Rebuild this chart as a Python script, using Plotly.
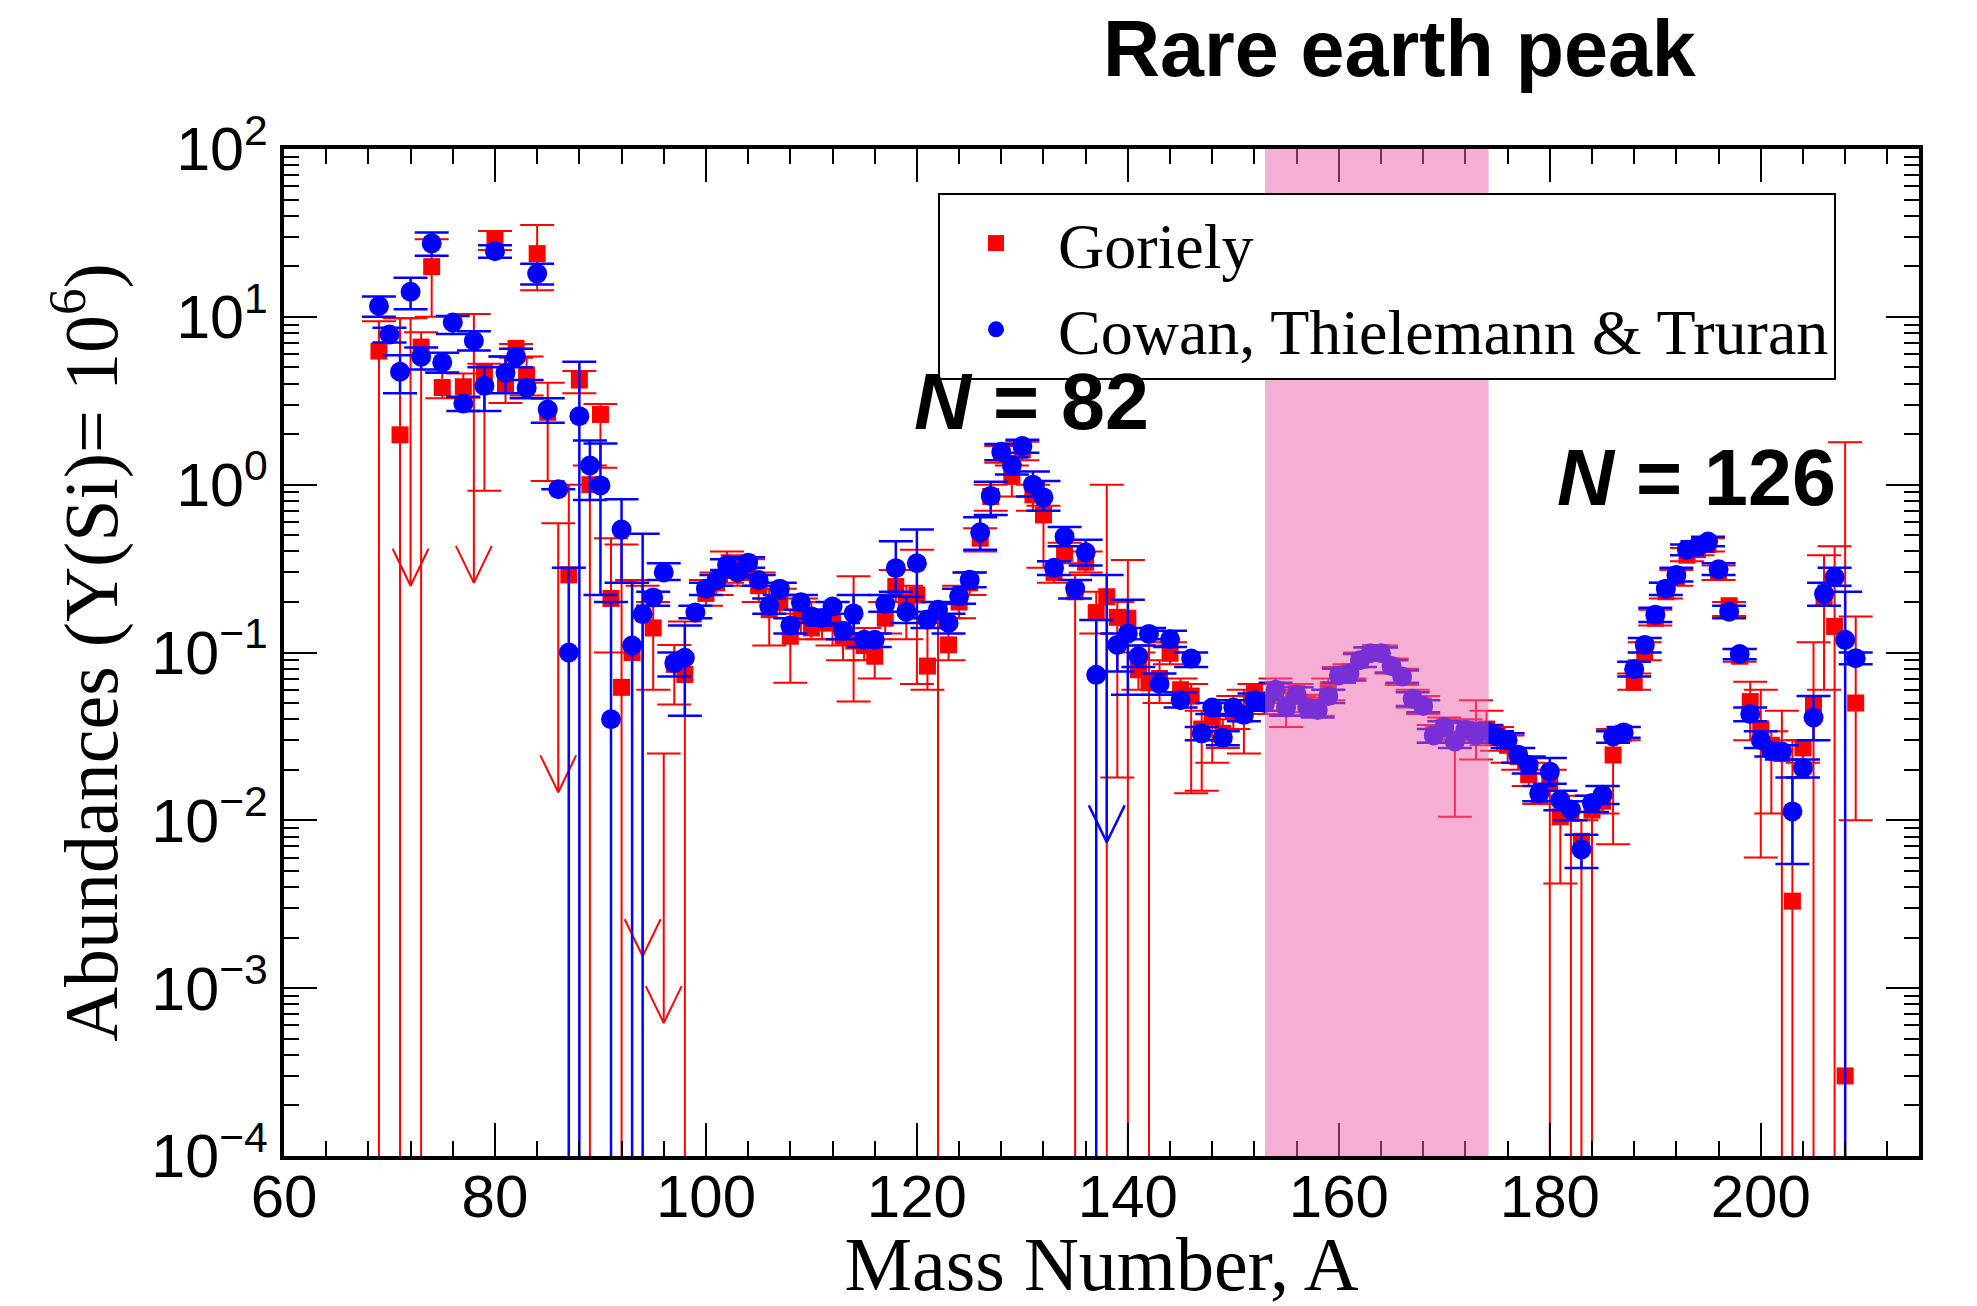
import numpy as np
import plotly.graph_objects as go

# ---------------- data ----------------
# Goriely (red squares): mass number, abundance, upper end, lower end of error bar
# lower end 0 -> bar runs below the axis floor; None -> no error bar
gor_A = [69, 71, 73, 74, 75, 77, 79, 80, 81, 82, 83, 84, 85, 87, 88, 89, 90, 91, 92, 93,
         95, 97, 98, 100, 101, 102, 103, 104, 105, 106, 107, 108, 109, 110, 111, 112, 113,
         114, 115, 116, 117, 118, 119, 120, 121, 122, 123, 124, 125, 126, 127, 128, 129,
         130, 131, 132, 133, 134, 135, 136, 137, 138, 139, 140, 141, 142, 143, 144, 145,
         146, 147, 148, 149, 150, 151, 152, 153, 154, 155, 156, 157, 158, 159, 160, 161,
         162, 163, 164, 165, 166, 167, 168, 169, 170, 171, 172, 173, 174, 175, 176, 177,
         178, 179, 180, 181, 182, 183, 184, 185, 186, 187, 188, 189, 190, 191, 192, 193,
         194, 195, 196, 197, 198, 199, 200, 201, 202, 203, 204, 205, 206, 207, 208, 209]
gor_y = [6.25, 1.98, 6.6, 19.9, 3.79, 3.83, 4.7, 29.3, 3.92, 6.49, 4.5, 23.8, 2.7, 0.29, 4.2,
         1.0, 2.62, 0.21, 0.062, 0.10, 0.14, 0.085, 0.074, 0.225, 0.26, 0.31, 0.33, 0.31,
         0.25, 0.18, 0.20, 0.125, 0.17, 0.14, 0.15, 0.15, 0.125, 0.117, 0.11, 0.095, 0.16,
         0.247, 0.20, 0.22, 0.083, 0.17, 0.111, 0.20, 0.26, 0.48, 0.85, 1.55, 1.12, 1.62,
         0.87, 0.66, 0.30, 0.39, 0.23, 0.345, 0.173, 0.215, 0.162, 0.16, 0.079, 0.066, 0.07,
         0.099, 0.06, 0.055, 0.035, 0.0416, 0.033, 0.045, 0.043, 0.057, 0.05, 0.06, 0.047,
         0.057, 0.05, 0.047, 0.06, 0.073, 0.077, 0.09, 0.10, 0.10, 0.083, 0.072, 0.053,
         0.048, 0.033, 0.036, 0.030, 0.035, 0.034, 0.035, 0.032, 0.028, 0.024, 0.0187,
         0.014, 0.017, 0.0105, 0.011, 0.0075, 0.0115, 0.013, 0.0245, 0.033, 0.0665, 0.10,
         0.16, 0.23, 0.28, 0.38, 0.41, 0.44, 0.30, 0.19, 0.095, 0.051, 0.035, 0.028, 0.025,
         0.0033, 0.027, 0.049, 0.21, 0.143, 0.0003, 0.05]
gor_hi = [9.4, 9.8, 8.1, 29.0, 4.67, 4.6, 5.25, 32.5, 5.8, 6.9, 5.8, 35.2, 4.05, 1.0, 4.75,
          1.3, 3.02, 0.48, 0.44, 0.27, 0.20, 0.111, 0.153, 0.27, 0.30, 0.40, 0.38, 0.36,
          0.30, 0.24, 0.24, 0.18, 0.21, 0.20, 0.18, 0.20, 0.15, 0.285, 0.14, 0.12, 0.20,
          0.31, 0.25, 0.41, 0.15, 0.20, 0.16, 0.25, 0.30, 0.55, 1.0, 1.7, 1.3, 1.8, 1.0,
          0.75, 0.35, 0.45, 0.29, 0.40, 0.23, 1.0, 0.20, 0.356, 0.10, 0.11, 0.09, 0.115,
          0.07, 0.065, 0.045, 0.05, 0.04, 0.055, 0.06, 0.065, 0.058, 0.07, 0.06, 0.065,
          0.056, 0.054, 0.07, 0.082, 0.085, 0.10, 0.108, 0.11, 0.092, 0.08, 0.06, 0.055,
          0.037, 0.041, 0.034, 0.04, 0.052, 0.045, 0.036, 0.032, 0.027, 0.022, 0.016, 0.02,
          0.014, 0.013, 0.010, 0.014, 0.016, 0.035, 0.036, 0.075, 0.115, 0.18, 0.26, 0.31,
          0.42, 0.45, 0.48, 0.33, 0.20, 0.105, 0.067, 0.06, 0.034, 0.045, 0.03, 0.03,
          0.115, 0.38, 0.43, 1.79, 0.164]
gor_lo = [0, 0, 0, 10.0, 3.27, 3.3, 0.92, 25.0, 3.07, 5.7, 3.4, 14.4, 1.05, 0, 3.5,
          0, 1.26, 0.10, 0, 0, 0.06, 0.049, 0, 0.19, 0.22, 0.26, 0.25, 0.27, 0.20, 0.11,
          0.17, 0.066, 0.13, 0.12, 0.12, 0.11, 0.09, 0.051, 0.09, 0.07, 0.13, 0.20, 0.12,
          0.065, 0.06, 0, 0.09, 0.16, 0.22, 0.40, 0.70, 1.35, 0.85, 1.40, 0.70, 0.32, 0.26,
          0.34, 0, 0.30, 0.13, 0, 0.018, 0, 0.06, 0, 0.05, 0.085, 0.05, 0.0145, 0.015,
          0.022, 0.027, 0.035, 0.025, 0.048, 0.043, 0.05, 0.036, 0.05, 0.044, 0.042, 0.052,
          0.066, 0.07, 0.082, 0.092, 0.092, 0.075, 0.064, 0.047, 0.043, 0.029, 0.03, 0.0105,
          0.03, 0.023, 0.028, 0.026, 0.022, 0.02, 0.016, 0.0125, 0, 0.0042, 0, 0, 0, 0.011,
          0.0072, 0.03, 0.06, 0.09, 0.145, 0.21, 0.25, 0.35, 0.38, 0.40, 0.27, 0.165, 0.088,
          0.03, 0.006, 0.011, 0, 0, 0.022, 0, 0.06, 0, 0, 0.01]

# Cowan, Thielemann & Truran (blue circles)
ctt_A = [69, 70, 71, 72, 73, 74, 75, 76, 77, 78, 79, 80, 81, 82, 83, 84, 85, 86, 87, 88, 89,
         90, 91, 92, 93, 94, 95, 96, 97, 98, 99, 100, 101, 102, 103, 104, 105, 106, 107, 108,
         109, 110, 111, 112, 113, 114, 115, 116, 117, 118, 119, 120, 121, 122, 123, 124, 125,
         126, 127, 128, 129, 130, 131, 132, 133, 134, 135, 136, 137, 139, 140, 141, 142, 143,
         144, 145, 146, 147, 148, 149, 150, 151, 152, 153, 154, 155, 156, 157, 158, 159, 160,
         161, 162, 163, 164, 165, 166, 167, 168, 169, 170, 171, 172, 173, 174, 175, 176, 177,
         178, 179, 180, 181, 182, 183, 184, 185, 186, 187, 188, 189, 190, 191, 192, 193, 194,
         195, 196, 197, 198, 199, 200, 201, 202, 203, 204, 205, 206, 207, 208, 209]
ctt_y = [11.6, 7.85, 4.71, 14.1, 5.78, 27.4, 5.35, 9.25, 3.05, 7.2, 3.88, 24.6, 4.64, 5.78,
         3.77, 18.1, 2.8, 0.94, 0.10, 2.56, 1.30, 0.99, 0.04, 0.54, 0.11, 0.169, 0.213, 0.30,
         0.0865, 0.093, 0.173, 0.24, 0.27, 0.333, 0.30, 0.343, 0.27, 0.19, 0.24, 0.145, 0.199,
         0.164, 0.16, 0.188, 0.135, 0.171, 0.119, 0.119, 0.195, 0.318, 0.175, 0.34, 0.157,
         0.18, 0.15, 0.216, 0.271, 0.52, 0.857, 1.57, 1.31, 1.70, 1.0, 0.84, 0.32, 0.49, 0.24,
         0.395, 0.0736, 0.111, 0.13, 0.095, 0.129, 0.065, 0.12, 0.052, 0.092, 0.033, 0.047,
         0.031, 0.047, 0.0425, 0.052, 0.05, 0.06, 0.047, 0.056, 0.047, 0.0455, 0.055, 0.073,
         0.075, 0.09, 0.099, 0.099, 0.083, 0.072, 0.053, 0.048, 0.032, 0.036, 0.0295, 0.0347,
         0.032, 0.034, 0.0316, 0.030, 0.0246, 0.0214, 0.0145, 0.0195, 0.0132, 0.0116, 0.0067,
         0.0127, 0.0142, 0.0316, 0.0334, 0.0796, 0.111, 0.168, 0.24, 0.29, 0.41, 0.428, 0.458,
         0.313, 0.175, 0.098, 0.043, 0.030, 0.026, 0.0257, 0.0113, 0.0205, 0.041, 0.224,
         0.281, 0.119, 0.0925]
ctt_hi = [13.2, 8.6, 5.9, 17.1, 6.56, 31.8, 6.1, 10.1, 3.34, 8.2, 5.0, 26.7, 5.8, 6.45, 4.2,
          20.7, 3.27, None, 0.32, 5.4, 1.83, 1.76, 0.2, 0.82, 0.26, 0.51, 0.23, 0.34, 0.10,
          0.145, 0.19, 0.26, 0.29, 0.36, 0.33, 0.37, 0.29, 0.21, 0.26, 0.16, 0.22, 0.18,
          0.175, 0.20, 0.15, 0.22, 0.13, 0.13, 0.22, 0.46, 0.215, 0.54, 0.175, 0.20, 0.17,
          0.24, 0.30, 0.64, 1.04, 1.75, 1.45, 1.85, 1.2, 1.05, 0.35, 0.56, 0.27, 0.47, 0.156,
          0.13, 0.206, 0.11, 0.14, 0.075, 0.135, 0.058, 0.10, 0.036, 0.05, 0.034, 0.052,
          0.046, 0.057, 0.055, 0.066, 0.052, 0.062, 0.052, 0.05, 0.06, 0.08, 0.082, 0.098,
          0.107, 0.107, 0.09, 0.078, 0.058, 0.052, 0.035, 0.039, 0.032, 0.038, 0.035, 0.037,
          0.034, 0.033, 0.027, 0.024, 0.016, 0.0235, 0.015, 0.013, 0.0082, 0.014, 0.016, 0.034,
          0.036, 0.088, 0.122, 0.185, 0.26, 0.32, 0.44, 0.46, 0.49, 0.34, 0.19, 0.105, 0.047,
          0.034, 0.028, 0.028, 0.018, 0.023, 0.055, 0.26, 0.32, 0.23, 0.10]
ctt_lo = [10.0, 7.03, 3.5, 11.1, 4.85, 23.1, 4.65, 7.9, 2.75, 6.3, 2.75, 22.5, 3.5, 5.0, 3.27,
          15.6, 2.34, None, 0, 0, 0.81, 0.22, 0, 0.26, 0, 0, 0.19, 0.27, 0.072, 0.042, 0.16,
          0.22, 0.25, 0.31, 0.28, 0.32, 0.25, 0.17, 0.22, 0.13, 0.18, 0.15, 0.145, 0.17, 0.12,
          0.13, 0.108, 0.108, 0.175, 0.23, 0.15, 0.16, 0.14, 0.16, 0.13, 0.195, 0.245, 0.41,
          0.66, 1.40, 1.15, 1.55, 0.85, 0.70, 0.29, 0.43, 0.21, 0.33, 0, 0.077, 0.056, 0.082,
          0.12, 0.056, 0.108, 0.047, 0.082, 0.03, 0.043, 0.028, 0.042, 0.039, 0.047, 0.045,
          0.054, 0.042, 0.05, 0.042, 0.041, 0.05, 0.066, 0.068, 0.082, 0.091, 0.091, 0.076,
          0.066, 0.048, 0.044, 0.029, 0.033, 0.027, 0.032, 0.029, 0.031, 0.029, 0.027, 0.022,
          0.019, 0.013, 0.0165, 0.0115, 0.010, 0.0052, 0.0112, 0.0125, 0.029, 0.031, 0.072,
          0.10, 0.152, 0.22, 0.265, 0.38, 0.40, 0.43, 0.29, 0.16, 0.091, 0.039, 0.027, 0.024,
          0.023, 0.0055, 0.018, 0.03, 0.19, 0.25, 0, 0.085]

# upper limits (drawn as arrows): mass number, top of the bar, arrow tip
gor_ul_A = [72, 78, 86, 94, 96]
gor_ul_top = [9.8, 10.4, 0.59, 0.25, 0.025]
gor_ul_tip = [0.25, 0.26, 0.0147, 0.00155, 0.00062]
ctt_ul_A = [138]
ctt_ul_top = [0.29]
ctt_ul_tip = [0.0074]

# highlighted rare-earth region
band_A = [153, 174.2]

y_tick_vals = [1e-4, 1e-3, 1e-2, 1e-1, 1e0, 1e1, 1e2]
y_tick_text = ["10<sup>\u22124</sup>", "10<sup>\u22123</sup>", "10<sup>\u22122</sup>",
               "10<sup>\u22121</sup>", "10<sup>0</sup>", "10<sup>1</sup>", "10<sup>2</sup>"]
x_tick_vals = [60, 80, 100, 120, 140, 160, 180, 200]

RED = "#ff0000"
BLUE = "#0000ff"
FLOOR = 1e-7


def err_arrays(y, hi, lo):
    plus, minus = [], []
    for v, h, l in zip(y, hi, lo):
        if h is None:
            plus.append(None)
            minus.append(None)
            continue
        plus.append(h - v)
        minus.append(v - (l if l > 0 else FLOOR))
    return plus, minus


def arrow_path(A, top, tip, cap=1.6, head_w=1.7, head_h=0.22):
    xs, ys = [], []
    for a, t, p in zip(A, top, tip):
        xs += [a - cap, a + cap, None, a, a, None, a - head_w, a, a + head_w, None]
        hy = p * 10 ** head_h
        ys += [t, t, None, t, p, None, hy, p, hy, None]
    return xs, ys


fig = go.Figure()

gp, gm = err_arrays(gor_y, gor_hi, gor_lo)
fig.add_trace(go.Scatter(
    x=gor_A, y=gor_y, mode="markers", name="Goriely",
    marker=dict(symbol="square", size=17, color=RED),
    error_y=dict(type="data", symmetric=False, array=gp, arrayminus=gm,
                 color=RED, thickness=2, width=17)))

ax_, ay_ = arrow_path(gor_ul_A, gor_ul_top, gor_ul_tip)
fig.add_trace(go.Scatter(x=ax_, y=ay_, mode="lines", line=dict(color=RED, width=2),
                         showlegend=False, hoverinfo="skip"))

cp, cm = err_arrays(ctt_y, ctt_hi, ctt_lo)
fig.add_trace(go.Scatter(
    x=ctt_A, y=ctt_y, mode="markers", name="Cowan, Thielemann & Truran",
    marker=dict(symbol="circle", size=20, color=BLUE),
    error_y=dict(type="data", symmetric=False, array=cp, arrayminus=cm,
                 color=BLUE, thickness=2.5, width=17)))

bx_, by_ = arrow_path(ctt_ul_A, ctt_ul_top, ctt_ul_tip)
fig.add_trace(go.Scatter(x=bx_, y=by_, mode="lines", line=dict(color=BLUE, width=2.5),
                         showlegend=False, hoverinfo="skip"))

fig.add_shape(type="rect", xref="x", yref="paper", x0=band_A[0], x1=band_A[1], y0=0, y1=1,
              fillcolor="rgb(235,96,171)", opacity=0.5, line_width=0, layer="above")

sans = "Liberation Sans, Arial, Helvetica, sans-serif"
serif = "Liberation Serif, Times New Roman, serif"

y_minor = [m * 10.0 ** e for e in range(-4, 2) for m in range(2, 10)]

fig.update_layout(
    width=1977, height=1306, autosize=False,
    margin=dict(l=284, r=58, t=149, b=150),
    paper_bgcolor="white", plot_bgcolor="white",
    showlegend=True,
    legend=dict(x=0.4, y=0.9563, xanchor="left", yanchor="top",
                bgcolor="white", bordercolor="black", borderwidth=2,
                font=dict(family=serif, size=64, color="black"),
                itemwidth=114, indentation=-6),
    xaxis=dict(range=[60, 215], tickmode="array", tickvals=x_tick_vals, automargin=False,
               ticks="inside", ticklen=33, tickwidth=2, tickcolor="black",
               ticklabelstandoff=-15,
               showline=True, linewidth=4, linecolor="black", mirror="allticks",
               showgrid=False, zeroline=False,
               tickfont=dict(family=sans, size=60, color="black"),
               minor=dict(dtick=4, tick0=60, ticks="inside", ticklen=15, tickwidth=2,
                          tickcolor="black", showgrid=False),
               title=dict(text="Mass Number, A", font=dict(family=serif, size=76, color="black"),
                          standoff=14)),
    yaxis=dict(type="log", range=[-4, 2], tickmode="array", tickvals=y_tick_vals,
               ticktext=y_tick_text, automargin=False,
               ticks="inside", ticklen=33, tickwidth=2, tickcolor="black",
               showline=True, linewidth=4, linecolor="black", mirror="allticks",
               showgrid=False, zeroline=False,
               tickfont=dict(family=sans, size=61, color="black"),
               minor=dict(tickmode="array", tickvals=y_minor, ticks="inside", ticklen=15,
                          tickwidth=2, tickcolor="black", showgrid=False),
               title=dict(text="Abundances (Y(Si)= 10<sup>6</sup>)",
                          font=dict(family=serif, size=76, color="black"), standoff=10)),
)

bold = dict(family=sans, size=79, color="black")
fig.add_annotation(text="<b>Rare earth peak</b>", xref="paper", yref="paper",
                   x=0.6826, y=1.0998, xanchor="center", yanchor="middle",
                   showarrow=False, font=bold)
fig.add_annotation(text="<b><i>N</i> = 82</b>", xref="paper", yref="paper",
                   x=0.4569, y=0.7497, xanchor="center", yanchor="middle",
                   showarrow=False, font=bold)
fig.add_annotation(text="<b><i>N</i> = 126</b>", xref="paper", yref="paper",
                   x=0.8642, y=0.674, xanchor="center", yanchor="middle",
                   showarrow=False, font=bold)

fig.write_html("out.html")
